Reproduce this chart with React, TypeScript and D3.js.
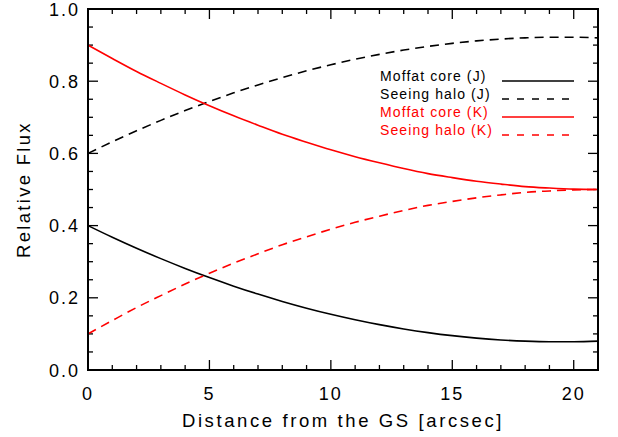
import * as d3 from "d3";

const distance = [0, 1, 2, 3, 4, 5, 6, 7, 8, 9, 10, 11, 12, 13, 14, 15, 16, 17, 18, 19, 20, 21];
const moffatJ = [0.4, 0.3678, 0.3373, 0.3085, 0.2814, 0.256, 0.2323, 0.2103, 0.19, 0.1713, 0.1544, 0.1392, 0.1256, 0.1138, 0.1036, 0.0951, 0.0884, 0.0833, 0.0799, 0.0782, 0.0782, 0.0799];
const haloJ = [0.6, 0.6322, 0.6627, 0.6915, 0.7186, 0.744, 0.7677, 0.7897, 0.81, 0.8287, 0.8456, 0.8608, 0.8744, 0.8862, 0.8964, 0.9049, 0.9116, 0.9167, 0.9201, 0.9218, 0.9218, 0.9201];
const moffatK = [0.9, 0.863, 0.827, 0.794, 0.762, 0.732, 0.704, 0.678, 0.653, 0.631, 0.61, 0.591, 0.574, 0.558, 0.544, 0.533, 0.523, 0.515, 0.508, 0.504, 0.501, 0.5];
const haloK = [0.1, 0.137, 0.173, 0.206, 0.238, 0.268, 0.296, 0.322, 0.347, 0.369, 0.39, 0.409, 0.426, 0.442, 0.456, 0.467, 0.477, 0.485, 0.492, 0.496, 0.499, 0.5];

const xMajor = [0, 5, 10, 15, 20];
const yMajor = [0, 0.2, 0.4, 0.6, 0.8, 1.0];

const series = [
  { label: "Moffat core (J)", values: moffatJ, color: "#000", dashed: false },
  { label: "Seeing halo (J)", values: haloJ, color: "#000", dashed: true },
  { label: "Moffat core (K)", values: moffatK, color: "#f00", dashed: false },
  { label: "Seeing halo (K)", values: haloK, color: "#f00", dashed: true },
];

const W = 618;
const H = 437;
const M = { left: 88, right: 20, top: 9, bottom: 67 };
const FONT = "'Liberation Sans', Arial, sans-serif";

const App = () => {
  const x = d3.scaleLinear().domain([0, 21]).range([M.left, W - M.right]);
  const y = d3.scaleLinear().domain([0, 1]).range([H - M.bottom, M.top]);
  const x0 = x(0), x1 = x(21), y0 = y(0), y1 = y(1);

  const line = (vals: number[]) =>
    d3
      .line<number>()
      .x((_, i) => x(distance[i]))
      .y((v) => y(v))
      .curve(d3.curveMonotoneX)(vals) ?? "";

  const xMinor = x.ticks(21);
  const yMinor = y.ticks(20);

  return (
    <svg
      width={W}
      height={H}
      style={{ position: "absolute", left: 0, top: 0, background: "#fff" }}
      fontFamily={FONT}
    >
      <g stroke="#000" strokeWidth={1.3}>
        {xMinor.map((t) => {
          const len = xMajor.includes(t) ? 10 : 5;
          return (
            <g key={"x" + t}>
              <line x1={x(t)} x2={x(t)} y1={y0} y2={y0 - len} />
              <line x1={x(t)} x2={x(t)} y1={y1} y2={y1 + len} />
            </g>
          );
        })}
        {yMinor.map((t) => {
          const len = yMajor.some((m) => Math.abs(m - t) < 1e-6) ? 10 : 5;
          return (
            <g key={"y" + t}>
              <line x1={x0} x2={x0 + len} y1={y(t)} y2={y(t)} />
              <line x1={x1} x2={x1 - len} y1={y(t)} y2={y(t)} />
            </g>
          );
        })}
      </g>
      <g fill="none" strokeWidth={1.6}>
        {series.map((s) => (
          <path
            key={s.label}
            d={line(s.values)}
            stroke={s.color}
            strokeDasharray={s.dashed ? "9,6" : undefined}
          />
        ))}
      </g>
      <rect
        x={x0}
        y={y1}
        width={x1 - x0}
        height={y0 - y1}
        fill="none"
        stroke="#000"
        strokeWidth={2}
      />
      <g fontSize={18} letterSpacing={2} fill="#000">
        {xMajor.map((t) => (
          <text key={t} x={x(t)} y={y0 + 30} textAnchor="middle">
            {t}
          </text>
        ))}
        {yMajor.map((t) => (
          <text key={t} x={x0 - 8} y={y(t) + 6.5} textAnchor="end">
            {d3.format(".1f")(t)}
          </text>
        ))}
      </g>
      <text
        x={(x0 + x1) / 2}
        y={H - 10}
        textAnchor="middle"
        fontSize={18.5}
        letterSpacing={2.6}
      >
        Distance from the GS [arcsec]
      </text>
      <text
        transform={`translate(30,${(y0 + y1) / 2}) rotate(-90)`}
        textAnchor="middle"
        fontSize={18.5}
        letterSpacing={2.3}
      >
        Relative Flux
      </text>
      <g fontSize={14} letterSpacing={1.1}>
        {series.map((s, i) => {
          const ly = 81 + i * 18;
          return (
            <g key={s.label}>
              <text x={380} y={ly} fill={s.color}>
                {s.label}
              </text>
              <line
                x1={502}
                x2={574}
                y1={ly}
                y2={ly}
                stroke={s.color}
                strokeWidth={1.6}
                strokeDasharray={s.dashed ? "7,8" : undefined}
              />
            </g>
          );
        })}
      </g>
    </svg>
  );
};

export default App;
